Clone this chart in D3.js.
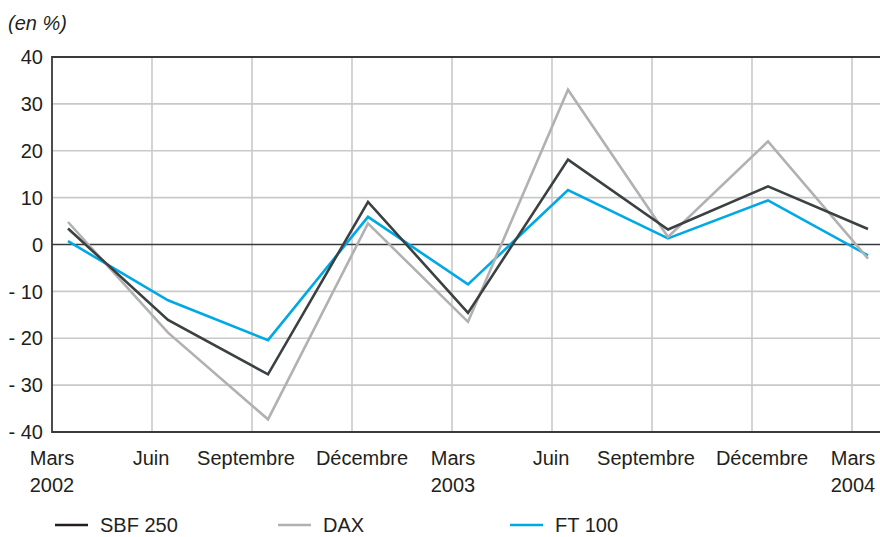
<!DOCTYPE html>
<head>
    <meta charset="utf-8">
    <title>Indices boursiers</title>
    <style>
        body { margin: 0; background: #fff; }
        svg { display: block; font-family: "Liberation Sans", Arial, sans-serif; }
    </style>
</head>
<body>

<svg width="880" height="537"></svg>

<script src="https://d3js.org/d3.v7.min.js"></script>

<script>

    // Quarterly values, in %
    const periods = ["Mars 2002", "Juin 2002", "Septembre 2002", "Décembre 2002",
                     "Mars 2003", "Juin 2003", "Septembre 2003", "Décembre 2003", "Mars 2004"];
    const sbf250 = [3.4, -16.1, -27.7, 9.1, -14.6, 18.1, 3.2, 12.4, 3.3];
    const dax    = [4.8, -18.8, -37.3, 4.5, -16.5, 33.0, 1.6, 22.0, -3.0];
    const ft100  = [0.7, -11.9, -20.4, 5.9, -8.5, 11.6, 1.3, 9.4, -2.3];

    // Axis labels
    const xLabels = [["Mars", "2002"], ["Juin"], ["Septembre"], ["Décembre"], ["Mars", "2003"],
                     ["Juin"], ["Septembre"], ["Décembre"], ["Mars", "2004"]];
    const yTicks = [40, 30, 20, 10, 0, -10, -20, -30, -40];

    const series = [
        { name: "SBF 250", values: sbf250, color: "#3b4042" },
        { name: "DAX",     values: dax,    color: "#b1b1b1" },
        { name: "FT 100",  values: ft100,  color: "#00a9e3" }
    ];

    const svg = d3.select("svg");
    const plotLeft = 52, plotRight = 880, plotTop = 57, plotBottom = 432;

    // points sit a bit to the right of each vertical gridline
    const x = d3.scaleLinear().domain([-0.16, 8.12]).range([plotLeft, plotRight]);
    const y = d3.scaleLinear().domain([-40, 40]).range([plotBottom, plotTop]);

    // gridlines
    svg.append("g")
        .selectAll("line")
        .data(yTicks.filter(d => d !== 0 && d !== -40))
        .enter().append("line")
            .attr("x1", plotLeft).attr("x2", plotRight)
            .attr("y1", d => y(d)).attr("y2", d => y(d))
            .attr("stroke", "#c9c9c9").attr("stroke-width", 1.6);

    svg.append("g")
        .selectAll("line")
        .data(d3.range(1, 9))
        .enter().append("line")
            .attr("x1", d => x(d - 0.16)).attr("x2", d => x(d - 0.16))
            .attr("y1", plotTop).attr("y2", plotBottom)
            .attr("stroke", "#c9c9c9").attr("stroke-width", 1.6);

    // axes frame and zero line
    svg.append("path")
        .attr("d", `M${plotRight},${plotTop}H${plotLeft}V${plotBottom}H${plotRight}`)
        .attr("fill", "none").attr("stroke", "#3a3a3a").attr("stroke-width", 1.8);
    svg.append("line")
        .attr("x1", plotLeft).attr("x2", plotRight)
        .attr("y1", y(0)).attr("y2", y(0))
        .attr("stroke", "#3a3a3a").attr("stroke-width", 1.6);

    // y tick labels
    svg.append("g")
        .selectAll("text")
        .data(yTicks)
        .enter().append("text")
            .attr("x", 43)
            .attr("y", d => y(d))
            .attr("dy", "0.36em")
            .attr("text-anchor", "end")
            .attr("font-size", 20)
            .attr("fill", "#231f20")
            .text(d => d < 0 ? "- " + Math.abs(d) : d);

    // x labels, centred on the gridlines (Septembre / Décembre nudged apart)
    const nudge = [0, -1, -6, 10, 1, -1, -6, 10, 1];
    const xl = svg.append("g")
        .selectAll("text")
        .data(xLabels)
        .enter().append("text")
            .attr("text-anchor", "middle")
            .attr("font-size", 20)
            .attr("fill", "#231f20")
            .attr("transform", (d, i) => `translate(${x(i - 0.16) + nudge[i]},465)`);
    xl.selectAll("tspan")
        .data(d => d)
        .enter().append("tspan")
            .attr("x", 0)
            .attr("y", (d, i) => i * 27)
            .text(d => d);

    svg.append("text")
        .attr("x", 8).attr("y", 30)
        .attr("font-size", 20)
        .attr("font-style", "italic")
        .attr("fill", "#231f20")
        .text("(en %)");

    // series lines
    const line = d3.line()
        .x((d, i) => x(i))
        .y(d => y(d));

    svg.append("g")
        .selectAll("path")
        .data(series.slice().reverse())
        .enter().append("path")
            .attr("d", d => line(d.values))
            .attr("fill", "none")
            .attr("stroke", d => d.color)
            .attr("stroke-width", 2.6)
            .attr("stroke-linejoin", "miter");

    // legend
    const legendX = [55, 278, 510];
    const lg = svg.append("g")
        .selectAll("g")
        .data(series)
        .enter().append("g")
            .attr("transform", (d, i) => `translate(${legendX[i]},525)`);
    lg.append("line")
        .attr("x1", 0).attr("x2", 33)
        .attr("stroke", d => d.color === "#3b4042" ? "#231f20" : d.color)
        .attr("stroke-width", 2.6);
    lg.append("text")
        .attr("x", 45)
        .attr("dy", "0.36em")
        .attr("font-size", 20)
        .attr("fill", "#231f20")
        .text(d => d.name);

</script>

</body>
